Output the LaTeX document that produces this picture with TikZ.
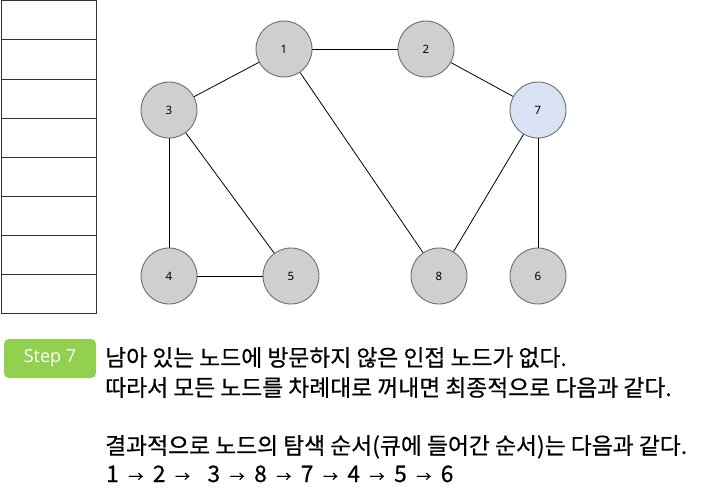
\documentclass[tikz,border=0pt]{standalone}
\usepackage{fontspec}
\setmainfont{Noto Sans}
\newfontfamily\krfont[UprightFeatures={FakeBold=0.5}]{Noto Sans CJK KR}
\newfontfamily\stepfont{Open Sans}
\definecolor{nodegray}{RGB}{208,206,206}
\definecolor{nodeblue}{RGB}{218,227,243}
\definecolor{nodeedge}{RGB}{110,110,110}
\definecolor{stepgreen}{RGB}{146,208,80}
\newcommand{\seqarrow}{\hspace{9.5pt}{\fontsize{15}{15}\selectfont →}\hspace{9.5pt}}
\begin{document}
\begin{tikzpicture}[x=1pt,y=-1pt,
  gnode/.style={circle,draw=nodeedge,line width=0.9pt,fill=nodegray,minimum size=56pt,inner sep=0pt,font=\fontsize{11.5}{13}\selectfont},
  visited/.style={gnode,fill=nodeblue},
  edge/.style={draw=black,line width=0.8pt},
  qline/.style={draw=black!80,line width=1pt},
  krtext/.style={anchor=base west,inner sep=0pt,font=\krfont\fontsize{22.8}{26}\selectfont},
  badge/.style={rounded corners=5pt,fill=stepgreen,draw=none}
]
\useasboundingbox (0,0) rectangle (703,503);
% queue table
\draw[qline] (1.5,1) rectangle (96,313);
\foreach \yy in {40,79,118,157,196,235,274} {
  \draw[qline] (1.5,\yy) -- (96,\yy);
}
% graph nodes
\node[gnode] (n1) at (284,49) {1};
\node[gnode] (n2) at (426,49) {2};
\node[gnode] (n3) at (169,110) {3};
\node[visited] (n7) at (538,110) {7};
\node[gnode] (n4) at (169,276) {4};
\node[gnode] (n5) at (291,276) {5};
\node[gnode] (n8) at (439,276) {8};
\node[gnode] (n6) at (538,276) {6};
% edges
\draw[edge] (n1) -- (n2);
\draw[edge] (n1) -- (n3);
\draw[edge] (n1) -- (n8);
\draw[edge] (n2) -- (n7);
\draw[edge] (n3) -- (n4);
\draw[edge] (n3) -- (n5);
\draw[edge] (n4) -- (n5);
\draw[edge] (n7) -- (n8);
\draw[edge] (n7) -- (n6);
% step badge
\node[badge,minimum width=92pt,minimum height=39pt,inner sep=0pt] (step) at (50,358.5) {};
\node[text=white,font=\stepfont\fontsize{18}{20}\selectfont] (steplabel) at (step.center) {Step 7};
% texts
\node[krtext] (t1) at (105,366) {남아 있는 노드에 방문하지 않은 인접 노드가 없다.};
\node[krtext] (t2) at (105,396) {따라서 모든 노드를 차례대로 꺼내면 최종적으로 다음과 같다.};
\node[krtext] (t3) at (105,454) {결과적으로 노드의 탐색 순서(큐에 들어간 순서)는 다음과 같다.};
\node[krtext] (t4) at (106,482) {1\seqarrow 2\seqarrow\hspace{8pt}3\seqarrow 8\seqarrow 7\seqarrow 4\seqarrow 5\seqarrow 6};
\end{tikzpicture}
\end{document}
